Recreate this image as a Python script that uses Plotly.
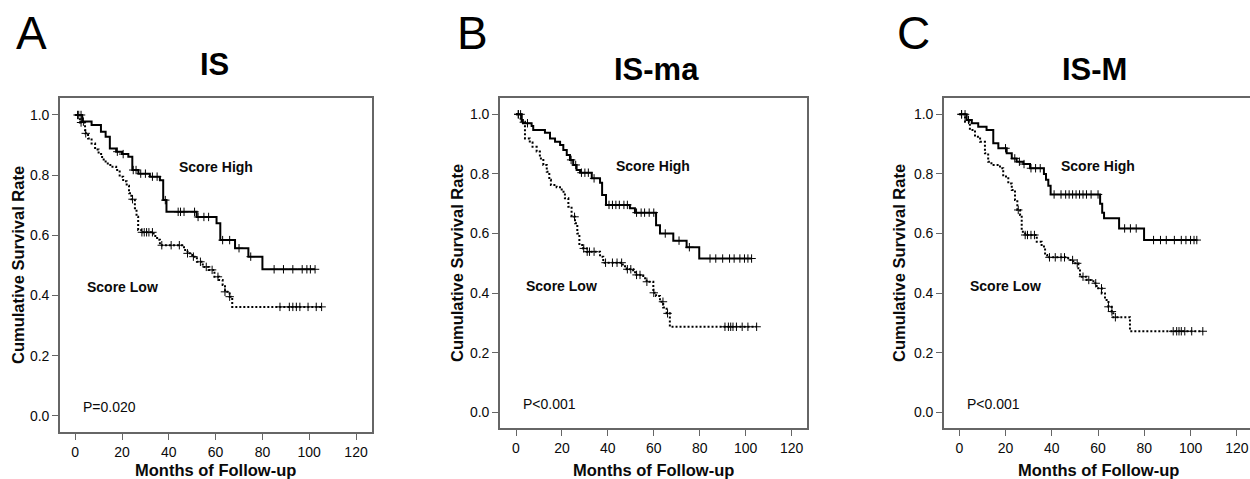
import plotly.graph_objects as go

W, H = 1250, 479

# ---------------- data ----------------
panel_letters = ["A", "B", "C"]
panel_titles = ["IS", "IS-ma", "IS-M"]
p_values = ["P=0.020", "P<0.001", "P<0.001"]
x_ticks = [0, 20, 40, 60, 80, 100, 120]
y_ticks = [0.0, 0.2, 0.4, 0.6, 0.8, 1.0]

# Panel A
a_high_t = [0, 3, 7, 11, 13, 14.8, 17.5, 20, 22.7, 24.4, 27, 31.9, 36.2, 37.6, 39, 51.9, 60.4, 62, 68.3, 74, 80]
a_high_s = [1.0, 0.978, 0.967, 0.944, 0.928, 0.889, 0.878, 0.87, 0.861, 0.817, 0.805, 0.795, 0.783, 0.717, 0.678, 0.661, 0.64, 0.584, 0.557, 0.529, 0.487]
a_high_end = 102.5
a_high_cens = [1.5, 2.5, 3.5, 18, 20.5, 24.8, 26, 28, 30, 33, 35, 38.5, 44, 45, 46.5, 51, 52.5, 55, 57, 63, 66, 70, 75, 85, 89, 93, 97, 99, 100.5, 102.5]
a_low_t = [0, 2, 4.2, 5.5, 7, 8.5, 10, 11.5, 13, 15, 17.5, 19, 20.5, 22, 23, 24, 25.5, 26.2, 26.9, 28.2, 33.5, 35, 36.2, 46.5, 48, 50, 52, 54.5, 57, 59.5, 61.5, 63, 64, 66, 67.1]
a_low_s = [1.0, 0.975, 0.939, 0.922, 0.905, 0.885, 0.87, 0.852, 0.839, 0.828, 0.817, 0.795, 0.78, 0.765, 0.74, 0.72, 0.69, 0.662, 0.618, 0.61, 0.598, 0.585, 0.567, 0.551, 0.54, 0.529, 0.512, 0.495, 0.485, 0.462, 0.451, 0.435, 0.412, 0.396, 0.362]
a_low_end = 105.3
a_low_cens = [1, 2.5, 4.5, 24.5, 28.5, 29.5, 30.5, 31.5, 33, 37, 41, 44.5, 48, 50.5, 53.5, 56, 58.5, 61, 64, 66, 87.5, 91.5, 93, 94.5, 96, 99.5, 103, 105.3]

# Panel B
b_high_t = [0, 2.5, 3, 6.8, 7.5, 12.6, 14.8, 17, 19.2, 20.6, 22.1, 23.5, 24.9, 26.4, 27.9, 33, 36.6, 37.5, 39.2, 49.6, 51.8, 61, 62.7, 68.5, 74.3, 79.8]
b_high_s = [1.0, 0.981, 0.97, 0.961, 0.947, 0.938, 0.919, 0.908, 0.897, 0.88, 0.863, 0.847, 0.83, 0.813, 0.804, 0.785, 0.77, 0.729, 0.696, 0.685, 0.67, 0.628, 0.6, 0.576, 0.554, 0.516]
b_high_end = 102.6
b_high_cens = [1, 2, 5, 24, 26, 28.5, 30, 31.5, 34, 40.5, 42, 43.5, 45, 47, 48.5, 52.5, 54.5, 56, 58, 60, 65, 71, 75.5, 84.5, 87, 90, 93, 95, 97.5, 99.5, 101, 102.6]
b_low_t = [0, 2, 3.9, 6, 7.2, 9, 10.4, 11.9, 13.4, 14.5, 15.2, 17.7, 19.9, 21.3, 22.8, 24.2, 25.7, 26.7, 27.6, 29.3, 30.8, 36.6, 38, 46.5, 48.2, 51, 52.5, 55.4, 56.9, 59.8, 61, 62.7, 64.1, 65.6, 67]
b_low_s = [1.0, 0.975, 0.919, 0.905, 0.891, 0.875, 0.852, 0.83, 0.807, 0.78, 0.763, 0.755, 0.74, 0.718, 0.69, 0.656, 0.634, 0.6, 0.561, 0.55, 0.539, 0.522, 0.502, 0.49, 0.48, 0.47, 0.461, 0.45, 0.438, 0.401, 0.39, 0.371, 0.352, 0.332, 0.287]
b_low_end = 104.8
b_low_cens = [1, 25.5, 29.5, 31, 32, 34, 39, 42, 44, 46, 48.5, 50, 52.5, 54, 57, 60, 64, 66, 91, 92.5, 93.5, 94.5, 96, 98.5, 101, 104.8]

# Panel C
c_high_t = [0, 3.2, 5.4, 8.2, 11.8, 14.7, 16.9, 20.5, 22.7, 24.8, 27.7, 30.6, 36.6, 37.5, 38.5, 39.5, 60.9, 61.8, 62.6, 69.1, 79.9]
c_high_s = [1.0, 0.981, 0.97, 0.958, 0.947, 0.903, 0.886, 0.869, 0.852, 0.841, 0.833, 0.819, 0.8, 0.78, 0.76, 0.731, 0.7, 0.67, 0.651, 0.617, 0.578]
c_high_end = 102.7
c_high_cens = [1, 2.5, 4, 20, 24, 26, 28, 31, 33, 35, 41, 44, 46, 47.5, 49, 50.5, 52, 53.5, 55, 57, 60, 71.5, 74, 76.5, 84, 87, 89.5, 93, 96, 98, 100, 101.5, 102.7]
c_low_t = [0, 2.5, 4.6, 6.8, 9, 11.1, 12.5, 13.9, 17.6, 19, 21.2, 22.7, 24.1, 25.1, 26.3, 27, 28.5, 33.5, 35.6, 37.1, 38, 47.1, 49.3, 51.5, 52.2, 55.1, 58, 59.4, 61.6, 63, 64.5, 65.9, 66.6, 73.8]
c_low_s = [1.0, 0.975, 0.947, 0.925, 0.908, 0.869, 0.841, 0.83, 0.819, 0.791, 0.768, 0.746, 0.712, 0.679, 0.662, 0.606, 0.595, 0.572, 0.556, 0.528, 0.52, 0.511, 0.5, 0.483, 0.455, 0.444, 0.433, 0.416, 0.399, 0.377, 0.354, 0.338, 0.319, 0.272]
c_low_end = 105.3
c_low_cens = [1, 25.5, 28.5, 29.5, 31, 32.5, 39, 41.5, 44, 45.5, 49, 51, 53.5, 56, 59, 61.5, 64.5, 66, 67.5, 92.5, 94, 95, 96, 97.5, 100.5, 105.3]

# ---------------- layout geometry (pixels) ----------------
frames = [
    dict(l=60, r=371.7, t=97.7, b=432.3, xr=[-6.5, 126.7], yr=[-0.055, 1.0575]),
    dict(l=500, r=806.7, t=97.7, b=428.3, xr=[-6.97, 126.6], yr=[-0.0537, 1.0557]),
    dict(l=944, r=1250, t=97.7, b=428.3, xr=[-6.6, 125.7], yr=[-0.0537, 1.0557]),
]
letter_pos = [(31, 33), (472, 33), (913, 33)]
title_pos = [(215, 64), (656, 70), (1094, 70)]
ytitle_x = [18, 457, 899]
xtitle_y = 470
high_lbl = [(60.2, 0.828), (59.8, 0.826), (60.1, 0.826)]
low_lbl = [(20.1, 0.427), (19.9, 0.424), (20.1, 0.424)]
p_lbl = [(14.8, 0.028), (14.5, 0.028), (14.7, 0.028)]

curves = [
    (a_high_t, a_high_s, a_high_end, a_high_cens, a_low_t, a_low_s, a_low_end, a_low_cens),
    (b_high_t, b_high_s, b_high_end, b_high_cens, b_low_t, b_low_s, b_low_end, b_low_cens),
    (c_high_t, c_high_s, c_high_end, c_high_cens, c_low_t, c_low_s, c_low_end, c_low_cens),
]


def step_val(ts, ss, t):
    v = ss[0]
    for ti, si in zip(ts, ss):
        if ti <= t:
            v = si
    return v


FONT = "Liberation Sans, Arial, sans-serif"
FRAME = "#666666"
TXT = "#0a0a0a"

fig = go.Figure()
annotations = []
layout_axes = {}

for i in range(3):
    fr = frames[i]
    xa = "x" if i == 0 else f"x{i+1}"
    ya = "y" if i == 0 else f"y{i+1}"
    ht, hs, he, hc, lt, ls, le, lc = curves[i]

    for (ts, ss, te, cens, dash) in [(lt, ls, le, lc, "2px,2px"), (ht, hs, he, hc, "solid")]:
        fig.add_trace(go.Scatter(
            x=ts + [te], y=ss + [ss[-1]], mode="lines",
            line=dict(color="black", width=2, dash=dash, shape="hv"),
            xaxis=xa, yaxis=ya, showlegend=False, hoverinfo="skip"))
        fig.add_trace(go.Scatter(
            x=cens, y=[step_val(ts, ss, c) for c in cens], mode="markers",
            marker=dict(symbol="cross-thin", size=6, color="black",
                        line=dict(width=1, color="black")),
            xaxis=xa, yaxis=ya, showlegend=False, hoverinfo="skip"))

    xkey = "xaxis" if i == 0 else f"xaxis{i+1}"
    ykey = "yaxis" if i == 0 else f"yaxis{i+1}"
    layout_axes[xkey] = dict(
        domain=[fr["l"] / W, min(fr["r"] / W, 1.0)], range=fr["xr"], anchor=ya,
        tickmode="array", tickvals=x_ticks, ticktext=[str(v) for v in x_ticks],
        ticks="outside", ticklen=6, tickwidth=1.3, tickcolor=FRAME,
        showline=True, linecolor=FRAME, linewidth=1.6, mirror=True,
        showgrid=False, zeroline=False,
        tickfont=dict(family=FONT, size=14, color=TXT))
    layout_axes[ykey] = dict(
        domain=[1 - fr["b"] / H, 1 - fr["t"] / H], range=fr["yr"], anchor=xa,
        tickmode="array", tickvals=y_ticks, ticktext=[f"{v:.1f}" for v in y_ticks],
        ticks="outside", ticklen=6, tickwidth=1.3, tickcolor=FRAME,
        showline=True, linecolor=FRAME, linewidth=1.6, mirror=(i < 2),
        showgrid=False, zeroline=False,
        tickfont=dict(family=FONT, size=14, color=TXT))

    annotations.append(dict(text="<b>Score High</b>", x=high_lbl[i][0], y=high_lbl[i][1], xref=xa, yref=ya,
                            showarrow=False, font=dict(family=FONT, size=14, color=TXT),
                            xanchor="center", yanchor="middle"))
    annotations.append(dict(text="<b>Score Low</b>", x=low_lbl[i][0], y=low_lbl[i][1], xref=xa, yref=ya,
                            showarrow=False, font=dict(family=FONT, size=14, color=TXT),
                            xanchor="center", yanchor="middle"))
    annotations.append(dict(text=p_values[i], x=p_lbl[i][0], y=p_lbl[i][1], xref=xa, yref=ya,
                            showarrow=False, font=dict(family=FONT, size=14, color=TXT),
                            xanchor="center", yanchor="middle"))
    annotations.append(dict(text=panel_letters[i], x=letter_pos[i][0] / W, y=1 - letter_pos[i][1] / H,
                            xref="paper", yref="paper", showarrow=False,
                            font=dict(family=FONT, size=46, color="black"),
                            xanchor="center", yanchor="middle"))
    annotations.append(dict(text=f"<b>{panel_titles[i]}</b>", x=title_pos[i][0] / W, y=1 - title_pos[i][1] / H,
                            xref="paper", yref="paper", showarrow=False,
                            font=dict(family=FONT, size=31, color="black"),
                            xanchor="center", yanchor="middle"))
    annotations.append(dict(text="<b>Cumulative Survival Rate</b>", x=ytitle_x[i] / W,
                            y=1 - ((fr["t"] + fr["b"]) / 2) / H,
                            xref="paper", yref="paper", showarrow=False, textangle=-90,
                            font=dict(family=FONT, size=16.5, color=TXT),
                            xanchor="center", yanchor="middle"))
    x0 = fr["l"] + (0 - fr["xr"][0]) / (fr["xr"][1] - fr["xr"][0]) * (fr["r"] - fr["l"])
    x120 = fr["l"] + (120 - fr["xr"][0]) / (fr["xr"][1] - fr["xr"][0]) * (fr["r"] - fr["l"])
    annotations.append(dict(text="<b>Months of Follow-up</b>", x=((x0 + x120) / 2) / W,
                            y=1 - xtitle_y / H,
                            xref="paper", yref="paper", showarrow=False,
                            font=dict(family=FONT, size=16.5, color=TXT),
                            xanchor="center", yanchor="middle"))

fig.update_layout(
    width=W, height=H,
    margin=dict(l=0, r=0, t=0, b=0),
    paper_bgcolor="white", plot_bgcolor="white",
    annotations=annotations,
    **layout_axes,
)

fig.write_html("out.html", config={"displayModeBar": False},
               post_script="document.body.style.margin='0';document.body.style.overflow='hidden';")
